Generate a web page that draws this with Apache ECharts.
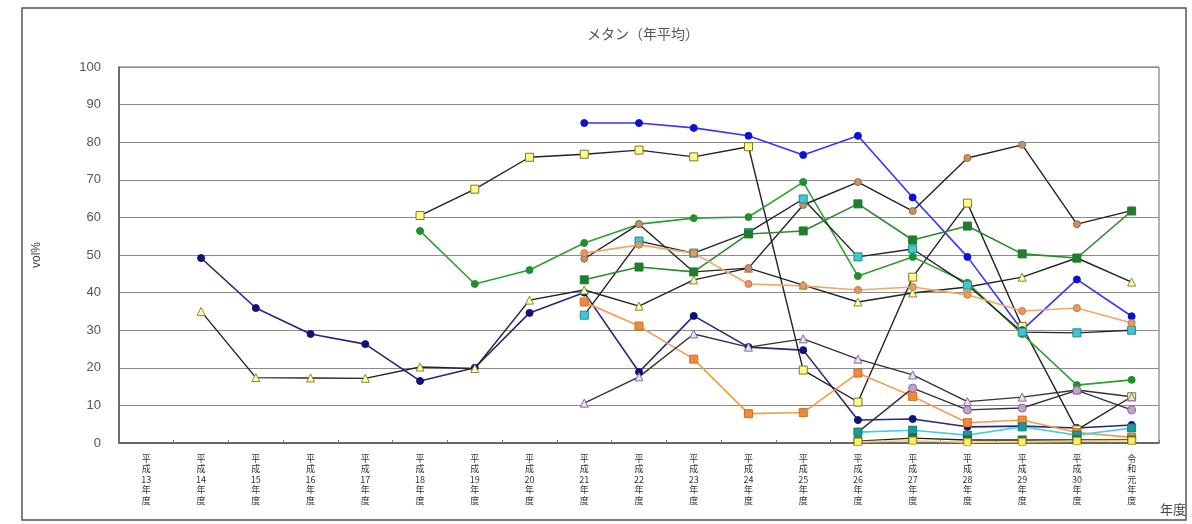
<!DOCTYPE html>
<html>
<head>
<meta charset="utf-8">
<script src="https://cdn.jsdelivr.net/npm/echarts@6/dist/echarts.min.js"></script>
<style>
html,body{margin:0;padding:0;background:#fff;}
#c{width:1192px;height:524px;}
</style>
</head>
<body>
<div id="c"></div>
<script>
var categories = ['平成13年度','平成14年度','平成15年度','平成16年度','平成17年度','平成18年度','平成19年度','平成20年度','平成21年度','平成22年度','平成23年度','平成24年度','平成25年度','平成26年度','平成27年度','平成28年度','平成29年度','平成30年度','令和元年度'];
var yTicks = [0,10,20,30,40,50,60,70,80,90,100];
var N = null;
var navy       = [N,49.2,35.9,29,26.3,16.5,20,34.6,40,18.9,33.8,25.5,24.7,6.1,6.4,4.3,4.5,4,4.8];
var triangle   = [N,35,17.4,17.3,17.2,20.2,19.8,38,40.7,36.4,43.4,46.5,42,37.5,39.9,41.5,44.1,49.2,42.8];
var yellowSq   = [N,N,N,N,N,60.5,67.5,76,76.8,77.9,76.1,78.8,19.4,10.9,44.1,63.8,31,3.5,12.3];
var greenCircle= [N,N,N,N,N,56.4,42.3,46,53.2,58.2,59.8,60.1,69.4,44.4,49.5,42.6,29,15.4,16.8];
var blue       = [N,N,N,N,N,N,N,N,85.1,85.1,83.8,81.7,76.6,81.7,65.3,49.5,30,43.5,33.7];
var brown      = [N,N,N,N,N,N,N,N,49,58.2,45.5,46.5,63.3,69.4,61.7,75.8,79.3,58.2,61.8];
var cyan       = [N,N,N,N,N,N,N,N,34,53.7,50.5,56,64.9,49.5,51.6,42,29.5,29.3,30];
var greenSq    = [N,N,N,N,N,N,N,N,43.4,46.8,45.5,55.6,56.4,63.6,54,57.7,50.3,49.2,61.7];
var orange     = [N,N,N,N,N,N,N,N,50.5,52.7,50.5,42.3,41.8,40.7,41.5,39.4,35.1,35.9,31.9];
var darkOrange = [N,N,N,N,N,N,N,N,37.5,31.1,22.3,7.8,8.1,18.6,12.4,5.4,6.1,2.8,1.5];
var grayTri    = [N,N,N,N,N,N,N,N,10.6,17.6,29,25.5,27.7,22.3,18.1,11,12.2,14.1,12.3];
var mauve      = [N,N,N,N,N,N,N,N,N,N,N,N,N,2.9,14.6,8.8,9.3,14,8.8];
var tealLow    = [N,N,N,N,N,N,N,N,N,N,N,N,N,2.9,3.4,2.1,4.3,2.1,4];
var greenLow   = [N,N,N,N,N,N,N,N,N,N,N,N,N,0.5,1.3,0.8,0.8,0.8,0.8];
var yellowLow  = [N,N,N,N,N,N,N,N,N,N,N,N,N,0.3,0.6,0.2,0.3,0.5,0.6];

function mk(name, data, lineColor, symbol, fill, border, size, lw) {
  return {
    name: name, type: 'line', data: data, connectNulls: false,
    symbol: symbol, symbolSize: size || 7,
    lineStyle: {color: lineColor, width: lw || 1.6},
    itemStyle: {color: fill, borderColor: border, borderWidth: 1},
    emphasis: {disabled: true}, animation: false, z: 3
  };
}

var chart = echarts.init(document.getElementById('c'));
chart.setOption({
  animation: false,
  backgroundColor: '#fff',
  title: {
    text: 'メタン（年平均）', left: 638, top: 22, textAlign: 'center',
    textStyle: {fontFamily: 'Noto Sans CJK JP', fontSize: 14, fontWeight: 'normal', color: '#555'}
  },
  grid: {left: 119, right: 33, top: 67, bottom: 81, show: true, borderColor: '#666', borderWidth: 1},
  xAxis: {
    type: 'category', data: categories, boundaryGap: true,
    axisLine: {lineStyle: {color: '#555', width: 1.5}},
    axisTick: {show: true, inside: true, length: 3, lineStyle: {color: '#777'}},
    axisLabel: {
      interval: 0, margin: 10, color: '#333', fontFamily: 'Noto Sans CJK JP', fontSize: 9, lineHeight: 10.5,
      formatter: function (v) { return v.match(/\d+|./g).join('\n'); }
    }
  },
  yAxis: {
    type: 'value', min: 0, max: 100, interval: 10,
    axisLine: {show: true, lineStyle: {color: '#555', width: 1.5}},
    axisTick: {show: false},
    splitLine: {lineStyle: {color: '#8a8a8a', width: 1}},
    axisLabel: {margin: 18, color: '#555', fontFamily: 'Liberation Sans', fontSize: 13,
      formatter: function (v) { return yTicks.indexOf(v) >= 0 ? String(v) : ''; }},
    name: 'vol%', nameLocation: 'middle', nameGap: 76, nameRotate: 90,
    nameTextStyle: {fontFamily: 'Liberation Sans', fontSize: 12, color: '#444'}
  },
  graphic: [
    {type: 'rect', shape: {x: 22, y: 8, width: 1164, height: 512}, style: {fill: 'none', stroke: '#555', lineWidth: 1.5}, silent: true, z: -1},
    {type: 'text', left: 1160, top: 503, style: {text: '年度', font: '13px "Noto Sans CJK JP"', fill: '#444'}, silent: true}
  ],
  series: [
    mk('s1', navy, '#26267a', 'circle', '#10107a', '#10107a', 7),
    mk('s2', triangle, '#222', 'triangle', '#ffffb0', '#888833', 8, 1.4),
    mk('s3', yellowSq, '#222', 'rect', '#ffff88', '#777733', 8, 1.4),
    mk('s4', greenCircle, '#2fa02f', 'circle', '#1f8f2f', '#1f8f2f', 7),
    mk('s5', blue, '#3535ff', 'circle', '#1010d0', '#1010d0', 7),
    mk('s6', brown, '#222', 'circle', '#c8906a', '#a06a40', 7, 1.4),
    mk('s7', cyan, '#222', 'rect', '#40c8d0', '#208890', 8, 1.4),
    mk('s8', greenSq, '#2a8a2a', 'rect', '#1e7e2e', '#1e7e2e', 8),
    mk('s9', orange, '#f0a868', 'circle', '#e89a60', '#c07a40', 7),
    mk('s10', darkOrange, '#f59a45', 'rect', '#f08a38', '#d07020', 8),
    mk('s11', grayTri, '#333', 'triangle', '#e6e0ea', '#8a6a9a', 8, 1.4),
    mk('s12', mauve, '#333', 'circle', '#c8a0d0', '#8a6a9a', 8, 1.4),
    mk('s13', tealLow, '#40d0e0', 'rect', '#1a9a9a', '#1a7a7a', 8),
    mk('s14', greenLow, '#222', 'rect', '#2e6e3e', '#2e5e2e', 8, 1.4),
    mk('s15', yellowLow, '#ffcc66', 'rect', '#ffee66', '#bbaa33', 7)
  ]
});
</script>
</body>
</html>
